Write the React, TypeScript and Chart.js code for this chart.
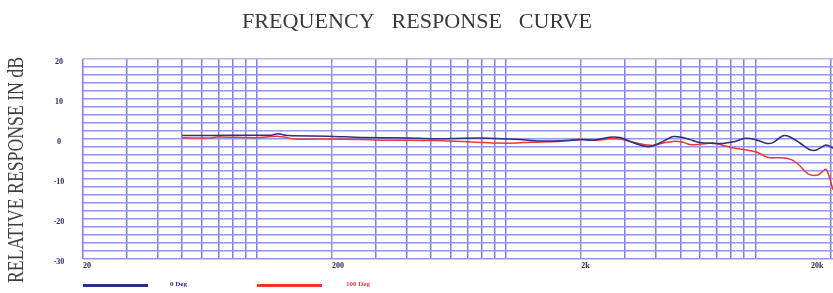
import React, { useEffect, useRef } from "react";
import { Chart, registerables } from "chart.js";

Chart.register(...registerables);

const titleText = "FREQUENCY   RESPONSE   CURVE";
const yAxisTitle = "RELATIVE RESPONSE IN dB";

const seriesNames = ["0 Deg", "100 Deg"];
const seriesColors = ["#2a2f85", "#e8393a"];

const freq0 = [50, 65, 90, 114, 121, 133, 192, 263, 403, 517, 670, 859, 1135, 1366, 1802, 2031, 2229, 2607, 2861, 3138, 3443, 3673, 3882, 4258, 4669, 5124, 5466, 5996, 6761, 7414, 8281, 9088, 9967, 11136, 11776, 12914, 13776, 15106, 16577, 17688, 19218, 20500];
const deg0 = [0.9, 0.9, 0.95, 0.95, 1.3, 0.85, 0.7, 0.4, 0.25, 0.05, 0.2, 0.2, -0.15, -0.5, -0.35, -0.15, -0.3, 0.45, 0.35, -0.6, -1.5, -1.9, -1.7, -0.6, 0.6, 0.35, -0.15, -0.9, -1.1, -1.1, -0.65, 0.2, -0.1, -1.1, -0.9, 0.8, 0.5, -1.0, -2.7, -2.7, -1.5, -2.3];

const freq100 = [50, 65, 69, 89, 100, 121, 142, 192, 263, 317, 403, 517, 670, 916, 1104, 1244, 1598, 1922, 2031, 2312, 2607, 2861, 3138, 3443, 3673, 3882, 4258, 4669, 5124, 5466, 5996, 6761, 7414, 8281, 9341, 10152, 11241, 13398, 14692, 16276, 17852, 19218, 20500];
const deg100 = [0.3, 0.25, 0.5, 0.4, 0.35, 0.7, 0.0, 0.0, -0.15, -0.3, -0.3, -0.4, -0.65, -1.0, -1.0, -0.8, -0.6, -0.15, -0.1, -0.3, 0.05, 0.0, -0.6, -1.2, -1.5, -1.6, -1.0, -0.6, -0.8, -1.4, -1.3, -1.0, -1.6, -2.3, -2.8, -3.3, -4.6, -4.8, -6.0, -8.7, -9.0, -7.6, -12.7];

const xGridValues = [20, 30, 40, 50, 60, 70, 80, 90, 100, 200, 300, 400, 500, 600, 700, 800, 900, 1000, 2000, 3000, 4000, 5000, 6000, 7000, 8000, 9000, 10000, 20000];
const xTickValues = [20, 200, 2000, 20000];
const xTickLabels = ["20", "200", "2k", "20k"];
const yTickValues = [20, 10, 0, -10, -20, -30];
const yTickLabels = ["20", "10", "0", "-10", "-20", "-30"];

const decorPlugin = {
  id: "decor",
  afterDraw(chart: any) {
    const ctx = chart.ctx as CanvasRenderingContext2D;
    const xs = chart.scales.x;
    const ys = chart.scales.y;
    ctx.save();

    // Title
    ctx.font = "22px 'Liberation Serif'";
    ctx.fillStyle = "#3a3a3a";
    ctx.textBaseline = "middle";
    ctx.textAlign = "center";
    const tw = ctx.measureText(titleText).width;
    ctx.save();
    ctx.translate(417, 22);
    ctx.scale(350 / tw, 1);
    ctx.fillText(titleText, 0, 0);
    ctx.restore();

    // Y axis title (rotated, condensed)
    ctx.font = "24px 'Liberation Serif'";
    ctx.fillStyle = "#404040";
    const yw = ctx.measureText(yAxisTitle).width;
    ctx.save();
    ctx.translate(17, 170);
    ctx.rotate(-Math.PI / 2);
    ctx.scale(226 / yw, 1);
    ctx.textAlign = "center";
    ctx.textBaseline = "middle";
    ctx.fillText(yAxisTitle, 0, 0);
    ctx.restore();

    // Y tick labels
    ctx.font = "bold 8px 'Liberation Serif'";
    ctx.fillStyle = "#24246a";
    ctx.textAlign = "center";
    ctx.textBaseline = "middle";
    yTickValues.forEach((v, i) => {
      ctx.fillText(yTickLabels[i], 59, ys.getPixelForValue(v) + 2.5);
    });

    // X tick labels
    ctx.font = "bold 8px 'Liberation Serif'";
    ctx.fillStyle = "#2a2a55";
    ctx.textBaseline = "middle";
    xTickValues.forEach((v, i) => {
      const px = xs.getPixelForValue(v);
      if (i === xTickValues.length - 1) {
        ctx.textAlign = "right";
        ctx.fillText(xTickLabels[i], px - 7, 266);
      } else {
        ctx.textAlign = "left";
        ctx.fillText(xTickLabels[i], px, 266);
      }
    });

    // Legend
    const legendLines = [
      [83, 148, 170],
      [257, 322, 346],
    ];
    ctx.font = "bold 7px 'Liberation Serif'";
    ctx.textAlign = "left";
    ctx.textBaseline = "middle";
    legendLines.forEach((l, i) => {
      ctx.strokeStyle = seriesColors[i];
      ctx.lineWidth = 3;
      ctx.beginPath();
      ctx.moveTo(l[0], 285.5);
      ctx.lineTo(l[1], 285.5);
      ctx.stroke();
      ctx.fillStyle = seriesColors[i];
      ctx.fillText(seriesNames[i], l[2], 284);
    });

    ctx.restore();
  },
};

export default function App() {
  const ref = useRef<HTMLCanvasElement | null>(null);
  useEffect(() => {
    document.body.style.margin = "0";
    const canvas = ref.current;
    if (!canvas) return;
    const gridColor = "#9494e8";
    const chart = new Chart(canvas, {
      type: "line",
      data: {
        datasets: [
          {
            label: seriesNames[0],
            data: freq0.map((f, i) => ({ x: f, y: deg0[i] })),
            borderColor: seriesColors[0],
            borderWidth: 1.5,
            pointRadius: 0,
            tension: 0.3,
            fill: false,
          },
          {
            label: seriesNames[1],
            data: freq100.map((f, i) => ({ x: f, y: deg100[i] })),
            borderColor: seriesColors[1],
            borderWidth: 1.5,
            pointRadius: 0,
            tension: 0.3,
            fill: false,
          },
        ],
      },
      options: {
        responsive: false,
        animation: false,
        devicePixelRatio: 1,
        layout: { padding: { left: 83, top: 59, right: 0, bottom: 34 } },
        plugins: {
          legend: { display: false },
          title: { display: false },
          tooltip: { enabled: false },
        },
        scales: {
          x: {
            type: "logarithmic",
            min: 20,
            max: 20500,
            afterBuildTicks: (axis: any) => {
              axis.ticks = xGridValues.map((v) => ({ value: v }));
            },
            ticks: { display: false },
            grid: {
              color: (c: any) => {
                const v = c.tick ? c.tick.value : 0;
                return v === 200 || v === 2000 ? "#9a92cc" : "#7e7ee4";
              },
              lineWidth: 1.5,
              drawTicks: false,
            },
            border: { display: false },
          },
          y: {
            type: "linear",
            min: -30,
            max: 20,
            ticks: { display: false, stepSize: 2 },
            grid: {
              color: (c: any) => (c.tick && c.tick.value === 20 ? "#b8b8d8" : gridColor),
              lineWidth: 1.6,
              drawTicks: false,
            },
            border: { display: false },
          },
        },
      },
      plugins: [decorPlugin],
    } as any);
    return () => chart.destroy();
  }, []);
  return (
    <div style={{ width: 833, height: 293 }}>
      <canvas ref={ref} width={833} height={293} style={{ width: 833, height: 293, display: "block" }} />
    </div>
  );
}
